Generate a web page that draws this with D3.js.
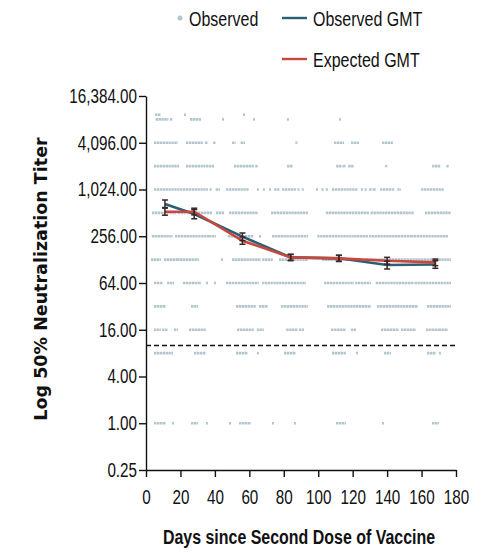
<!DOCTYPE html>
<html>
<head>
<meta charset="utf-8">
<script src="https://cdn.jsdelivr.net/npm/d3@7"></script>
<style>
  body { margin: 0; background: #fff; }
  svg { display: block; }
  .narrow { font-family: 'Liberation Sans', Arial, sans-serif; }
</style>
</head>
<body>
<div id="chart"></div>
<script>
// GMT time points (days after 2nd dose)
const gmtDays = [11, 28, 56, 84, 112, 140, 168];
const observedGMT = [666, 495, 253, 137, 133, 109, 111];
const observedLow = [590, 430, 225, 124, 121, 97, 99];
const observedHigh = [750, 565, 282, 150, 146, 122, 124];
const expectedGMT = [530, 530, 224, 137, 133, 124, 118];
const expectedLow = [478, 482, 202, 126, 122, 112, 107];
const expectedHigh = [600, 588, 250, 149, 145, 137, 130];

// individual observations: titer levels and the day runs where dots sit
const titerLevels = [9400, 8192, 4096, 2048, 1024, 512, 256, 128, 64, 32, 16, 8, 1];
const dayRuns = [
  [[5.8, 8.1], [22.6, 22.6], [56.9, 56.9]],
  [[6.2, 12.5], [14.5, 14.9], [26.1, 31.4], [44.7, 44.7], [62.7, 62.7], [82.4, 82.4], [112.6, 112.6]],
  [[5.2, 17.9], [23.8, 32.5], [34.8, 35.5], [39.5, 40.1], [50.5, 51.5], [55.5, 56.9], [87.3, 87.3],
   [109.7, 114.4], [119.6, 123.1], [137.6, 142.8]],
  [[5.2, 18.6], [23.8, 34], [35.5, 38.9], [51.7, 62], [64, 64.4], [82.4, 84.8], [111, 113.5],
   [115, 115.5], [118, 120.2], [139.5, 139.5], [166.7, 170.5], [175, 175.4]],
  [[5.2, 35.4], [37.5, 37.5], [41, 42.4], [47, 59.2], [65, 65], [68.5, 68.5], [72, 72], [75, 77],
   [79.5, 86.5], [88.5, 88.5], [91, 91], [99.3, 99.3], [102.5, 102.5], [105, 105], [108.5, 122.5],
   [125.4, 125.4], [127.5, 127.5], [130, 131], [132.5, 133], [136.5, 143.5], [146.5, 147.5], [160.3, 172.5]],
  [[4, 17], [19, 38], [41.2, 44.7], [48.8, 64.5], [73.2, 93.5], [105, 129], [131, 155], [162.6, 176.5]],
  [[4, 15], [17.4, 36], [37.2, 40], [48, 62], [66.2, 66.2], [73.7, 93.5], [100, 120], [121.4, 128.3],
   [130, 153.3], [154.5, 174.8]],
  [[3.5, 8.1], [11, 18], [18.6, 30.2], [44.1, 44.1], [50.5, 66], [68, 73], [77.8, 93.5], [102.8, 122.5],
   [128.3, 176.5]],
  [[5.2, 9.3], [12.8, 15.7], [22, 31.4], [35.4, 35.4], [40.1, 40.1], [47, 65], [68, 73], [74.5, 92.3],
   [104, 120.2], [122, 130], [134, 155], [156.5, 176.5]],
  [[5.2, 11], [26.7, 29.6], [52.8, 63.3], [66.2, 70.3], [79, 93.5], [105.7, 121.4], [122.5, 130.1],
   [134.7, 157.4], [163.7, 176.5]],
  [[5.2, 8.1], [9.9, 12.2], [16.8, 18], [25.5, 34.3], [53.4, 62.1], [65, 67.9], [82, 87.7], [89.4, 91.2],
   [108, 115.5], [119.6, 121.4], [137, 146.3], [148.6, 156.2], [163.2, 169.5], [170.7, 174.8]],
  [[5.2, 15.1], [28.5, 34.3], [52.8, 58.6], [65, 65], [80.7, 86.5], [108.5, 115.5], [122.5, 122.5],
   [138.8, 141.7], [163.7, 167.8], [170.7, 170.7]],
  [[5.2, 11], [15.7, 15.7], [26.7, 29.6], [35.4, 35.4], [48.8, 48.8], [54.6, 60.4], [73.7, 73.7],
   [86.5, 86.5], [110.9, 115.5], [137.6, 137.6], [166.6, 169.5]]
];
const detectionLimit = 10;

const yTicks = [0.25, 1, 4, 16, 64, 256, 1024, 4096, 16384];
const xTicks = [0, 20, 40, 60, 80, 100, 120, 140, 160, 180];

const W = 493, H = 553;
const dotColor = '#b3c6ce', obsColor = '#2c5f75', expColor = '#c9473c', barColor = '#3a2626';

const svg = d3.select('#chart').append('svg').attr('width', W).attr('height', H);

const x = d3.scaleLinear().domain([0, 180]).range([146, 456]);
const y = d3.scaleLog().base(2).domain([0.25, 16384]).range([470, 96]);

// squeeze text horizontally (the original uses a condensed face)
const condense = (sel, k) => sel.each(function () {
  const w = this.getComputedTextLength();
  d3.select(this).attr('textLength', w * k).attr('lengthAdjust', 'spacingAndGlyphs');
});

// flatten runs into {level, from, to}
const runs = [];
titerLevels.forEach((lv, i) => dayRuns[i].forEach(r => runs.push({ level: lv, from: r[0], to: r[1] })));

svg.append('g').selectAll('line')
  .data(runs)
  .enter()
  .append('line')
  .attr('x1', d => x(d.from) - 1)
  .attr('x2', d => x(d.to) + 1)
  .attr('y1', d => y(d.level))
  .attr('y2', d => y(d.level))
  .attr('stroke', dotColor)
  .attr('stroke-width', 2.6)
  .attr('stroke-dasharray', '2.4,0.5');

// detection limit
svg.append('line')
  .attr('x1', x(0)).attr('x2', x(180))
  .attr('y1', y(detectionLimit)).attr('y2', y(detectionLimit))
  .attr('stroke', '#111').attr('stroke-width', 1.5).attr('stroke-dasharray', '5,3');

// axes
const yAxis = svg.append('g')
  .attr('transform', `translate(${x(0)},0)`)
  .call(d3.axisLeft(y).tickValues(yTicks).tickFormat(d3.format(',.2f')).tickSize(7).tickSizeOuter(0).tickPadding(2));
const xAxis = svg.append('g')
  .attr('transform', `translate(0,${y(0.25)})`)
  .call(d3.axisBottom(x).tickValues(xTicks).tickSize(7).tickSizeOuter(0).tickPadding(13));

[yAxis, xAxis].forEach(g => {
  g.selectAll('path, line').attr('stroke', '#111').attr('stroke-width', 1.4);
  g.selectAll('text').attr('class', 'narrow').attr('font-size', 19.5).attr('fill', '#111').call(condense, 0.78);
});

// GMT lines
const gmtLine = vals => d3.line().x((d, i) => x(gmtDays[i])).y(d => y(d))(vals);
svg.append('path').attr('d', gmtLine(observedGMT))
  .attr('fill', 'none').attr('stroke', obsColor).attr('stroke-width', 2.6);
svg.append('path').attr('d', gmtLine(expectedGMT))
  .attr('fill', 'none').attr('stroke', expColor).attr('stroke-width', 2.6);

// error bars
const drawBars = (lo, hi) => {
  const g = svg.append('g').attr('stroke', barColor).attr('stroke-width', 1.5);
  gmtDays.forEach((d, i) => {
    g.append('line').attr('x1', x(d)).attr('x2', x(d)).attr('y1', y(lo[i])).attr('y2', y(hi[i]));
    g.append('line').attr('x1', x(d) - 3).attr('x2', x(d) + 3).attr('y1', y(lo[i])).attr('y2', y(lo[i]));
    g.append('line').attr('x1', x(d) - 3).attr('x2', x(d) + 3).attr('y1', y(hi[i])).attr('y2', y(hi[i]));
  });
};
drawBars(observedLow, observedHigh);
drawBars(expectedLow, expectedHigh);

// axis titles
svg.append('text')
  .attr('transform', `translate(47,279) rotate(-90)`)
  .attr('text-anchor', 'middle')
  .attr('font-family', "'DejaVu Sans', sans-serif")
  .attr('font-weight', 'bold')
  .attr('font-size', 17.5)
  .attr('fill', '#111')
  .text('Log 50% Neutralization Titer');

svg.append('text')
  .attr('class', 'narrow')
  .attr('transform', 'translate(299,544) scale(0.76,1)')
  .attr('text-anchor', 'middle')
  .attr('font-weight', 'bold')
  .attr('font-size', 21)
  .attr('fill', '#111')
  .text('Days since Second Dose of Vaccine');

// legend
const legend = svg.append('g').attr('class', 'narrow').attr('font-size', 20).attr('fill', '#111');
legend.append('circle').attr('cx', 180).attr('cy', 18).attr('r', 2.5).attr('fill', dotColor);
legend.append('text').attr('x', 189).attr('y', 26).text('Observed');
legend.append('line').attr('x1', 282).attr('x2', 307).attr('y1', 18).attr('y2', 18)
  .attr('stroke', obsColor).attr('stroke-width', 2.4);
legend.append('text').attr('x', 313).attr('y', 26).text('Observed GMT');
legend.append('line').attr('x1', 282).attr('x2', 307).attr('y1', 59).attr('y2', 59)
  .attr('stroke', expColor).attr('stroke-width', 2.4);
legend.append('text').attr('x', 313).attr('y', 67).text('Expected GMT');
legend.selectAll('text').call(condense, 0.8);
</script>
</body>
</html>
